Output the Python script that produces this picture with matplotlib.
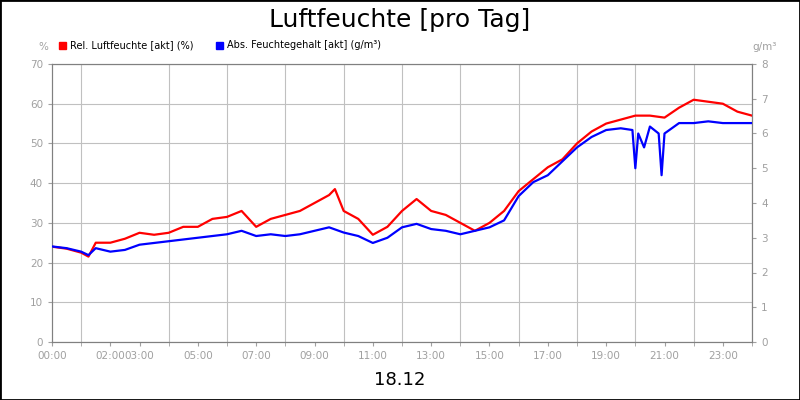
import matplotlib
matplotlib.use("Agg")
import matplotlib.pyplot as plt
from matplotlib.patches import Rectangle

# hours of day
rel_t = [0,0.5,1,1.25,1.5,2,2.5,3,3.5,4,4.5,5,5.5,6,6.5,7,7.5,8,8.5,9,9.5,9.7,10,10.5,11,11.5,12,12.5,13,13.5,14,14.5,15,15.5,16,16.5,17,17.5,18,18.5,19,19.5,20,20.5,21,21.5,22,22.5,23,23.5,24]
rel_v = [24,23.5,22.5,21.5,25,25,26,27.5,27,27.5,29,29,31,31.5,33,29,31,32,33,35,37,38.5,33,31,27,29,33,36,33,32,30,28,30,33,38,41,44,46,50,53,55,56,57,57,56.5,59,61,60.5,60,58,57]
abs_t = [0,0.5,1,1.25,1.5,2,2.5,3,3.5,4,4.5,5,5.5,6,6.5,7,7.5,8,8.5,9,9.5,10,10.5,11,11.5,12,12.5,13,13.5,14,14.5,15,15.5,16,16.5,17,17.5,18,18.5,19,19.5,19.9,20.0,20.1,20.3,20.5,20.8,20.9,21.0,21.5,22,22.5,23,23.5,24]
abs_v = [2.75,2.7,2.6,2.5,2.7,2.6,2.65,2.8,2.85,2.9,2.95,3.0,3.05,3.1,3.2,3.05,3.1,3.05,3.1,3.2,3.3,3.15,3.05,2.85,3.0,3.3,3.4,3.25,3.2,3.1,3.2,3.3,3.5,4.2,4.6,4.8,5.2,5.6,5.9,6.1,6.15,6.1,5.0,6.0,5.6,6.2,6.0,4.8,6.0,6.3,6.3,6.35,6.3,6.3,6.3]
tick_pos = [0,2,3,5,7,9,11,13,15,17,19,21,23]
tick_lab = ["00:00","02:00","03:00","05:00","07:00","09:00","11:00","13:00","15:00","17:00","19:00","21:00","23:00"]

fig = plt.figure(figsize=(8,4), dpi=100)
fig.patches.append(Rectangle((0,0),1,1,transform=fig.transFigure,fill=False,edgecolor='black',lw=2))
ax = fig.add_axes([52/800, 58/400, 700/800, 278/400])
ax2 = ax.twinx()
ax.plot(rel_t, rel_v, color='#ff0000', lw=1.6, zorder=3)
ax2.plot(abs_t, abs_v, color='#0000ff', lw=1.6, zorder=3)
ax.set_xlim(0,24); ax.set_ylim(0,70); ax2.set_ylim(0,8)
ax.set_yticks(range(0,71,10)); ax2.set_yticks(range(0,9))
ax.set_xticks(tick_pos); ax.set_xticklabels(tick_lab)
ax.set_xticks(range(25), minor=True)
ax.grid(True, which='minor', axis='x', color='#c0c0c0', lw=0.8)
ax.grid(True, which='major', axis='y', color='#c0c0c0', lw=0.8)
for a in (ax, ax2):
    a.tick_params(colors='#a0a0a0', labelsize=7.5, length=3, which='both')
    for s in a.spines.values(): s.set_color('#808080')
ax.set_axisbelow(True)
fig.text(0.5, 0.95, "Luftfeuchte [pro Tag]", ha='center', va='center', fontsize=18)
fig.text(0.5, 0.05, "18.12", ha='center', va='center', fontsize=13)
fig.text(43/800, 0.875, "%", ha='center', fontsize=7.5, color='#a0a0a0')
fig.text(765/800, 0.875, "g/m³", ha='center', fontsize=7.5, color='#a0a0a0')
fig.patches.append(Rectangle((59/800, 352/400-1/400), 7/800, 7/400, transform=fig.transFigure, color='red'))
fig.text(70/800, 0.888, "Rel. Luftfeuchte [akt] (%)", fontsize=7, va='center')
fig.patches.append(Rectangle((216/800, 352/400-1/400), 7/800, 7/400, transform=fig.transFigure, color='blue'))
fig.text(227/800, 0.888, "Abs. Feuchtegehalt [akt] (g/m³)", fontsize=7, va='center')
fig.savefig("out.png", dpi=100)
